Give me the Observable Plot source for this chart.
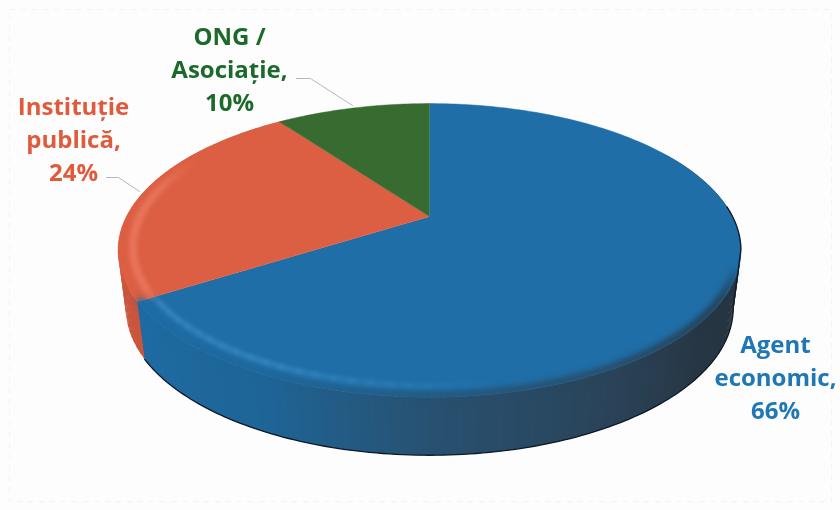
<!DOCTYPE html>
<html><head><meta charset="utf-8">
<script src="https://cdn.jsdelivr.net/npm/d3@7"></script>
<script src="https://cdn.jsdelivr.net/npm/@observablehq/plot@0.6"></script>
<style>html,body{margin:0;padding:0;background:#fdfdfe}svg{display:block}</style>
</head><body><div id="chart"></div>
<script>
const categories = ["Agent economic", "Instituție publică", "ONG / Asociație"];
const values = [66, 24, 10];
const labelLines = ["Agent\neconomic,\n66%", "Instituție\npublică,\n24%", "ONG /\nAsociație,\n10%"];
const faceColors = ["#1f6ea7", "#dc5f43", "#386b30"];
const textColors = ["#1f77b3", "#e05a3c", "#1c6a2a"];

// Perspective disc layout
const cx = 429, cy = 216, a = 303, b = 139, k = 0.231, depth = 58;
const deg = Math.PI / 180;
function upperRim(t, r = 1) {
  const u = r * Math.sin(t * deg), v = r * Math.cos(t * deg), w = 1 + k * v;
  return {x: cx + a * u / w, y: cy - b * v / w};
}
function lowerRim(t) {
  const p = upperRim(t);
  return {x: cx + (p.x - cx) * 0.975, y: p.y + depth};
}
const total = d3.sum(values);
const ends = Array.from(d3.cumsum(values), v => v / total * 360);
const starts = [0, ...ends.slice(0, -1)];
const steps = (s, e, n = 1) => d3.range(s, e, n).concat([e]);

const slices = categories.flatMap((name, i) => [
  {name, c: faceColors[i], x: cx, y: cy},
  ...steps(starts[i], ends[i]).map(t => ({name, c: faceColors[i], ...upperRim(t)}))
]);

const blueWall = d3.scaleLinear()
  .domain([237.6, 205, 178, 150, 130, 60])
  .range(["#1e6ba3", "#1e6597", "#28506f", "#2a4358", "#273644", "#26323e"])
  .interpolate(d3.interpolateRgb);
const wallColor = t => t > ends[0] ? "#c9563c" : blueWall(t);

function quad(id, c, s, e) {
  return [upperRim(s), upperRim(e), lowerRim(e), lowerRim(s)].map(p => ({z: id, c, ...p}));
}
// Each strip overlaps the next so no seams show; the red wall lies behind the blue one.
const redStrips = d3.range(ends[0] - 2, ends[1], 2).flatMap(t => quad("r" + t, "#c9563c", t, t + 2.5));
const blueStrips = d3.range(60, ends[0], 1).flatMap(t => quad("b" + t, blueWall(t), t, Math.min(t + 1.6, ends[0])));

const bevel = d3.range(108, ends[0], 3).flatMap(t => [t, t + 3.5].map(q => ({
  z: t, c: wallColor(t), o: Math.min(1, (t - 108) / 14), ...upperRim(Math.min(q, ends[0]), 0.992)
})));
const shine = d3.range(165, ends[0] - 2, 3).flatMap(t => [t, t + 3.5].map(q => ({
  z: t, o: Math.min(1, (t - 165) / 40) * 0.6, ...upperRim(Math.min(q, ends[0] - 1), 0.95)
})));
const redShine = d3.range(ends[0] + 1, 296, 2).flatMap(t => [t, t + 2.5].map(q => ({
  z: t, o: Math.min(1, (296 - t) / 20) * 0.55, ...upperRim(q, 0.955)
})));
const outline = [...steps(86, 103).map(t => upperRim(t)), ...steps(103, ends[0]).map(lowerRim)];

const leaders = [
  {z: "ONG", x: 296, y: 78}, {z: "ONG", x: 310, y: 78}, {z: "ONG", x: 352, y: 105},
  {z: "Inst", x: 106, y: 177}, {z: "Inst", x: 118, y: 177}, {z: "Inst", x: 139, y: 191}
];
const labelPos = [[775, 375], [73, 137], [229, 67]];
const labels = categories.map((name, i) => ({
  name, text: labelLines[i], color: textColors[i], x: labelPos[i][0], y: labelPos[i][1]
}));

const chart = Plot.plot({
  width: 840, height: 510, margin: 0,
  x: {domain: [0, 840], axis: null},
  y: {domain: [510, 0], axis: null},
  color: {type: "identity"},
  style: {background: "#fdfdfe"},
  marks: [
    Plot.frame({inset: 9, stroke: "#f2f4fa", strokeDasharray: "6,5"}),
    Plot.line(redStrips, {x: "x", y: "y", z: "z", fill: "c", stroke: "none", imageFilter: "blur(0.5px)"}),
    Plot.line(blueStrips, {x: "x", y: "y", z: "z", fill: "c", stroke: "none", imageFilter: "blur(0.5px)"}),
    Plot.line(slices, {x: "x", y: "y", z: "name", fill: "c", stroke: "c", strokeWidth: 0.5, imageFilter: "blur(0.4px)"}),
    Plot.line(bevel, {x: "x", y: "y", z: "z", stroke: "c", strokeOpacity: "o", strokeWidth: 6, imageFilter: "blur(3px)"}),
    Plot.line(shine, {x: "x", y: "y", z: "z", stroke: "#3f8fc8", strokeOpacity: "o", strokeWidth: 5, imageFilter: "blur(2px)"}),
    Plot.line(redShine, {x: "x", y: "y", z: "z", stroke: "#e9795f", strokeOpacity: "o", strokeWidth: 8, imageFilter: "blur(2px)"}),
    Plot.line(outline, {x: "x", y: "y", stroke: "#0f1a26", strokeWidth: 1.3, imageFilter: "blur(0.4px)"}),
    Plot.line(leaders, {x: "x", y: "y", z: "z", stroke: "#b4b6c6", strokeWidth: 1}),
    Plot.text(labels, {
      x: "x", y: "y", text: "text", fill: "color", fontSize: 24, fontWeight: 700,
      fontFamily: "Open Sans", lineHeight: 1.37, textAnchor: "middle", imageFilter: "blur(0.3px)"
    })
  ]
});
document.getElementById("chart").append(chart);
</script></body></html>
